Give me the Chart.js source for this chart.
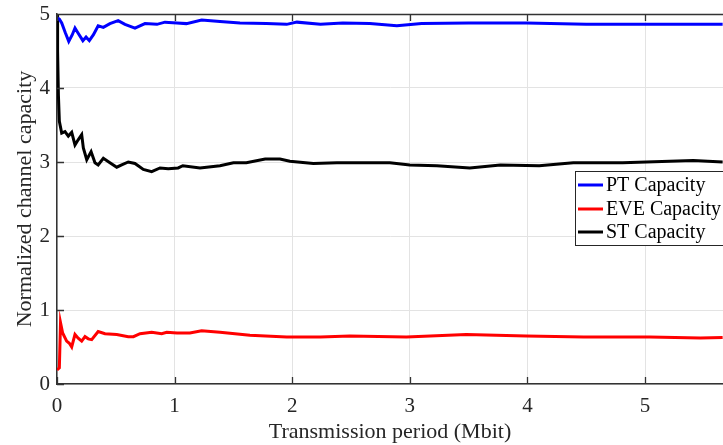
<!DOCTYPE html>
<html>
<head>
<meta charset="utf-8">
<script src="https://cdn.jsdelivr.net/npm/chart.js@4.4.0/dist/chart.umd.min.js"></script>
<style>
  html, body { margin: 0; padding: 0; background: #fff; }
</style>
</head>
<body>
<canvas id="capacity-chart" width="723" height="445"></canvas>
<script>
const seriesLabels = ["PT Capacity", "EVE Capacity", "ST Capacity"];
const seriesColors = ["#0000ff", "#ff0000", "#000000"];

// PT capacity
const ptX = [0, 0.02, 0.04, 0.07, 0.1, 0.13, 0.153, 0.18, 0.22, 0.247, 0.275, 0.31, 0.35, 0.394, 0.45, 0.52, 0.578, 0.663, 0.748, 0.85, 0.918, 1.02, 1.1, 1.23, 1.386, 1.556, 1.78, 1.953, 2.04, 2.24, 2.43, 2.66, 2.89, 3.1, 3.5, 3.99, 4.5, 5.0, 5.66];
const ptY = [4.95, 4.93, 4.88, 4.75, 4.63, 4.72, 4.81, 4.74, 4.64, 4.69, 4.64, 4.72, 4.84, 4.82, 4.87, 4.91, 4.86, 4.81, 4.87, 4.86, 4.89, 4.88, 4.87, 4.92, 4.90, 4.88, 4.87, 4.86, 4.89, 4.86, 4.88, 4.87, 4.84, 4.87, 4.88, 4.88, 4.86, 4.86, 4.86];

// EVE capacity
const eveX = [0, 0.02, 0.03, 0.048, 0.082, 0.105, 0.125, 0.153, 0.18, 0.21, 0.238, 0.266, 0.295, 0.35, 0.408, 0.508, 0.606, 0.65, 0.706, 0.805, 0.89, 0.933, 1.02, 1.13, 1.23, 1.386, 1.64, 1.953, 2.24, 2.49, 2.97, 3.48, 3.99, 4.48, 5.04, 5.47, 5.66];
const eveY = [0.19, 0.22, 0.83, 0.69, 0.58, 0.55, 0.50, 0.67, 0.62, 0.58, 0.64, 0.61, 0.60, 0.71, 0.68, 0.67, 0.64, 0.64, 0.68, 0.70, 0.68, 0.70, 0.69, 0.69, 0.72, 0.70, 0.66, 0.635, 0.635, 0.65, 0.635, 0.67, 0.65, 0.635, 0.635, 0.62, 0.63];

// ST capacity
const stX = [0, 0.005, 0.012, 0.02, 0.04, 0.068, 0.096, 0.125, 0.153, 0.18, 0.21, 0.224, 0.253, 0.29, 0.323, 0.35, 0.394, 0.45, 0.508, 0.55, 0.606, 0.663, 0.734, 0.805, 0.876, 0.946, 1.03, 1.07, 1.216, 1.386, 1.5, 1.61, 1.77, 1.896, 1.98, 2.18, 2.38, 2.63, 2.83, 3.0, 3.23, 3.51, 3.77, 4.1, 4.39, 4.81, 5.41, 5.66];
const stY = [5.0, 4.5, 3.9, 3.55, 3.39, 3.41, 3.35, 3.40, 3.23, 3.30, 3.37, 3.19, 3.03, 3.14, 2.99, 2.96, 3.05, 2.99, 2.93, 2.96, 3.00, 2.98, 2.90, 2.87, 2.92, 2.91, 2.92, 2.95, 2.92, 2.95, 2.99, 2.99, 3.04, 3.04, 3.01, 2.98, 2.99, 2.99, 2.99, 2.96, 2.95, 2.92, 2.96, 2.95, 2.99, 2.99, 3.02, 3.0];

const xTicks = [0, 1, 2, 3, 4, 5];
const yTicks = [0, 1, 2, 3, 4, 5];

const serif = "'Liberation Serif', 'Times New Roman', serif";
const axisColor = "#333333";

function toPoints(xs, ys) {
    return xs.map((x, i) => ({ x: x, y: ys[i] }));
}

function keepTicks(list) {
    return function (scale) {
        scale.ticks = list.map(v => ({ value: v }));
    };
}

// frame on top, inward tick marks on left / bottom / top
const frameAndTicks = {
    id: 'frameAndTicks',
    afterDatasetsDraw(chart) {
        const { ctx, chartArea: a, scales } = chart;
        const len = 7;
        ctx.save();
        ctx.strokeStyle = axisColor;
        ctx.lineWidth = 1.3;
        ctx.beginPath();
        ctx.moveTo(a.left, a.top + 0.5);
        ctx.lineTo(a.right, a.top + 0.5);
        xTicks.forEach(v => {
            const px = Math.round(scales.x.getPixelForValue(v)) + 0.5;
            ctx.moveTo(px, a.bottom);
            ctx.lineTo(px, a.bottom - len);
            ctx.moveTo(px, a.top);
            ctx.lineTo(px, a.top + len);
        });
        yTicks.forEach(v => {
            const py = Math.round(scales.y.getPixelForValue(v)) + 0.5;
            ctx.moveTo(a.left, py);
            ctx.lineTo(a.left + len, py);
        });
        ctx.stroke();
        ctx.restore();
    }
};

// legend box inside the plot, right side
const boxLegend = {
    id: 'boxLegend',
    afterDraw(chart) {
        const ctx = chart.ctx;
        const left = 575, top = 171, bottom = 245, right = 760;
        const rows = [185, 209, 232];
        ctx.save();
        ctx.fillStyle = "#ffffff";
        ctx.fillRect(left, top, right - left, bottom - top);
        ctx.strokeStyle = "#262626";
        ctx.lineWidth = 1;
        ctx.strokeRect(left + 0.5, top + 0.5, right - left, bottom - top);
        ctx.font = "20px " + serif;
        ctx.textBaseline = "middle";
        chart.data.datasets.forEach((ds, i) => {
            ctx.strokeStyle = ds.borderColor;
            ctx.lineWidth = 3;
            ctx.beginPath();
            ctx.moveTo(578, rows[i]);
            ctx.lineTo(603, rows[i]);
            ctx.stroke();
            ctx.fillStyle = "#000000";
            ctx.fillText(ds.label, 606, rows[i] + 1);
        });
        ctx.restore();
    }
};

const seriesData = [toPoints(ptX, ptY), toPoints(eveX, eveY), toPoints(stX, stY)];

new Chart(document.getElementById("capacity-chart"), {
    type: 'line',
    data: {
        datasets: seriesLabels.map((label, i) => ({
            label: label,
            data: seriesData[i],
            borderColor: seriesColors[i],
            backgroundColor: seriesColors[i],
            borderWidth: 3,
            pointRadius: 0,
            tension: 0,
            fill: false
        }))
    },
    options: {
        responsive: false,
        animation: false,
        layout: { padding: { top: 14, right: 0, left: 0, bottom: 0 } },
        plugins: {
            legend: { display: false },
            tooltip: { enabled: false }
        },
        scales: {
            x: {
                type: 'linear',
                min: 0,
                max: 5.663,
                afterBuildTicks: keepTicks(xTicks),
                afterFit(scale) {
                    scale.height = 61;
                    scale.paddingLeft = 0;
                    scale.paddingRight = 0;
                },
                grid: { color: "#e3e3e3", lineWidth: 1, drawTicks: false },
                border: { display: true, color: axisColor, width: 1.5 },
                ticks: {
                    padding: 10,
                    color: "#262626",
                    maxRotation: 0,
                    font: { family: serif, size: 21 }
                },
                title: {
                    display: true,
                    text: "Transmission period (Mbit)",
                    color: "#262626",
                    padding: { top: 0, bottom: 0 },
                    font: { family: serif, size: 22 }
                }
            },
            y: {
                min: 0,
                max: 5,
                afterBuildTicks: keepTicks(yTicks),
                afterFit(scale) {
                    scale.width = 57;
                    scale.paddingTop = 0;
                    scale.paddingBottom = 0;
                },
                grid: { color: "#e3e3e3", lineWidth: 1, drawTicks: false },
                border: { display: true, color: axisColor, width: 1.5 },
                ticks: {
                    padding: 7,
                    color: "#262626",
                    font: { family: serif, size: 21 }
                },
                title: {
                    display: true,
                    text: "Normalized channel capacity",
                    color: "#262626",
                    padding: { top: 12, bottom: 0 },
                    font: { family: serif, size: 22 }
                }
            }
        }
    },
    plugins: [frameAndTicks, boxLegend]
});
</script>
</body>
</html>
